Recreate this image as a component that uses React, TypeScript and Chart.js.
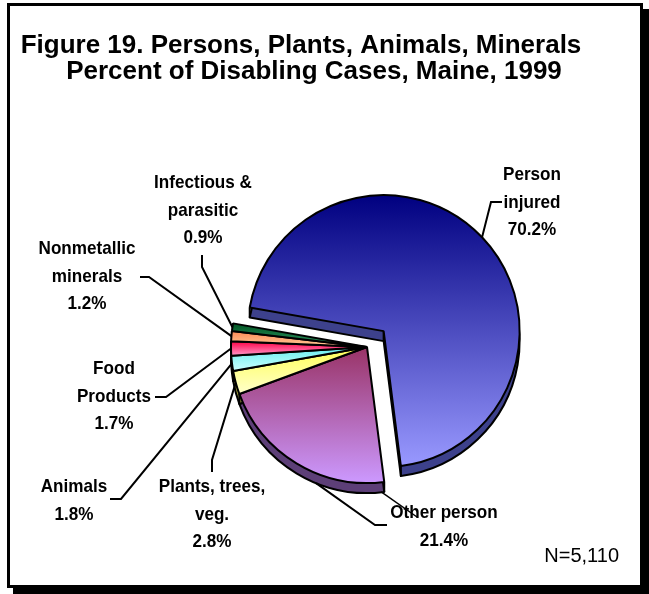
import React, { useEffect, useRef } from "react";
import { Chart, registerables } from "chart.js";

Chart.register(...registerables);

// ---------- data ----------
const titleLines = [
  "Figure 19. Persons, Plants, Animals, Minerals",
  "Percent of Disabling Cases, Maine, 1999",
];
const noteText = "N=5,110";
const categories = [
  "Person injured",
  "Other person",
  "Plants, trees, veg.",
  "Animals",
  "Food Products",
  "Nonmetallic minerals",
  "Infectious & parasitic",
];
const labelLines = [
  ["Person", "injured"],
  ["Other person"],
  ["Plants, trees,", "veg."],
  ["Animals"],
  ["Food", "Products"],
  ["Nonmetallic", "minerals"],
  ["Infectious &", "parasitic"],
];
const percents = [70.2, 21.4, 2.8, 1.8, 1.7, 1.2, 0.9];

// ---------- styles ----------
const topColors = ["#000080", "#993366", "#ffff55", "#66eeee", "#ff0044", "#ff8855", "#005522"];
const bottomColors = ["#9999ff", "#cc99ff", "#ffffcc", "#ccffff", "#ff99cc", "#ffcc99", "#339966"];
const sideColors = ["#3d418c", "#5d3f78", "#a3a340", "#3f9999", "#993355", "#995533", "#003318"];
const explode = [23, 0, 0, 0, 0, 0, 0];
const leaderFrac = [0.5, 0.38, 0.5, 0.5, 0.5, 0.5, 0.5];

const ROTATION = 280;
const RADIUS = 136;
const DEPTH = 10;
const FONT = "'Liberation Sans', Arial, Helvetica, sans-serif";
const LABEL_SIZE = 19;
const LABEL_SCALE_X = 0.9;

// label layout: [centerX, firstLineCenterY]
const labelAnchors = [
  [532, 175],
  [444, 513],
  [212, 487],
  [74, 487],
  [114, 369],
  [87, 249],
  [203, 183],
];
// leader start and elbow: [x0, y0, x1, y1]
const leaderElbows = [
  [502, 202, 491, 202],
  [387, 525, 375, 525],
  [212, 472, 212, 460],
  [110, 499, 121, 499],
  [155, 397, 166, 397],
  [140, 277, 149, 277],
  [202, 255, 202, 267],
];
const LINE_H = 27.5;

function sliceGradient(context: any) {
  const chart = context.chart;
  const i = context.dataIndex;
  const area = chart.chartArea;
  if (!area || i === undefined) return topColors[i ?? 0];
  const total = percents.reduce((a, b) => a + b, 0);
  let start = ((ROTATION - 90) * Math.PI) / 180;
  for (let j = 0; j < i; j++) start += (percents[j] / total) * Math.PI * 2;
  const end = start + (percents[i] / total) * Math.PI * 2;
  const mid = (start + end) / 2;
  const cy = (area.top + area.bottom) / 2 + Math.sin(mid) * explode[i];
  let minY = cy;
  let maxY = cy;
  for (let k = 0; k <= 40; k++) {
    const a = start + ((end - start) * k) / 40;
    const yy = cy + RADIUS * Math.sin(a);
    minY = Math.min(minY, yy);
    maxY = Math.max(maxY, yy);
  }
  const g = chart.ctx.createLinearGradient(0, minY, 0, maxY + 0.01);
  g.addColorStop(0, topColors[i]);
  g.addColorStop(1, bottomColors[i]);
  return g;
}

const explodePlugin = {
  id: "explodeSlices",
  afterDatasetUpdate(chart: any, args: any) {
    const meta = chart.getDatasetMeta(args.index);
    meta.data.forEach((arc: any, i: number) => {
      const d = explode[i];
      if (!d) return;
      const mid = (arc.startAngle + arc.endAngle) / 2;
      arc.x += Math.cos(mid) * d;
      arc.y += Math.sin(mid) * d;
    });
  },
};

const depthPlugin = {
  id: "pieDepth",
  beforeDatasetsDraw(chart: any) {
    const ctx = chart.ctx as CanvasRenderingContext2D;
    const meta = chart.getDatasetMeta(0);
    meta.data.forEach((arc: any, i: number) => {
      const { x, y, startAngle, endAngle, outerRadius } = arc;
      ctx.save();
      ctx.beginPath();
      ctx.moveTo(x, y + DEPTH);
      ctx.arc(x, y + DEPTH, outerRadius, startAngle, endAngle);
      ctx.closePath();
      ctx.fillStyle = sideColors[i];
      ctx.fill();
      ctx.lineWidth = 2;
      ctx.strokeStyle = "#000";
      ctx.lineJoin = "round";
      ctx.stroke();
      ctx.beginPath();
      for (const ang of [startAngle, endAngle]) {
        const px = x + Math.cos(ang) * outerRadius;
        const py = y + Math.sin(ang) * outerRadius;
        ctx.moveTo(px, py);
        ctx.lineTo(px, py + DEPTH);
      }
      ctx.moveTo(x, y);
      ctx.lineTo(x, y + DEPTH);
      ctx.stroke();
      ctx.restore();
    });
  },
};

function drawScaledText(ctx: CanvasRenderingContext2D, text: string, x: number, y: number, sx: number) {
  ctx.save();
  ctx.translate(x, y);
  ctx.scale(sx, 1);
  ctx.fillText(text, 0, 0);
  ctx.restore();
}

const labelPlugin = {
  id: "calloutLabels",
  afterDraw(chart: any) {
    const ctx = chart.ctx as CanvasRenderingContext2D;
    const meta = chart.getDatasetMeta(0);
    ctx.save();
    // leader lines
    ctx.strokeStyle = "#000";
    ctx.lineWidth = 2;
    meta.data.forEach((arc: any, i: number) => {
      const { x, y, startAngle, endAngle, outerRadius } = arc;
      const ang = startAngle + (endAngle - startAngle) * leaderFrac[i];
      const px = x + Math.cos(ang) * outerRadius;
      let py = y + Math.sin(ang) * outerRadius;
      if (Math.sin(ang) > 0.3) py += DEPTH;
      const [x0, y0, x1, y1] = leaderElbows[i];
      ctx.beginPath();
      ctx.moveTo(x0, y0);
      ctx.lineTo(x1, y1);
      ctx.lineTo(px, py);
      ctx.stroke();
    });
    // secondary leader for "Other person" from its start corner
    {
      const arc: any = meta.data[1];
      const cx = arc.x + Math.cos(arc.startAngle) * arc.outerRadius;
      const cy = arc.y + Math.sin(arc.startAngle) * arc.outerRadius + DEPTH;
      ctx.lineWidth = 1.5;
      ctx.beginPath();
      ctx.moveTo(cx - 3, cy);
      ctx.lineTo(417, 517);
      ctx.stroke();
    }
    // label texts
    ctx.fillStyle = "#000";
    ctx.textAlign = "center";
    ctx.textBaseline = "middle";
    ctx.font = `bold ${LABEL_SIZE}px ${FONT}`;
    labelLines.forEach((lines, i) => {
      const [lx, ly] = labelAnchors[i];
      const all = [...lines, `${percents[i].toFixed(1)}%`];
      all.forEach((t, k) => drawScaledText(ctx, t, lx, ly + k * LINE_H, LABEL_SCALE_X));
    });
    // title
    ctx.font = `bold 26px ${FONT}`;
    ctx.textBaseline = "alphabetic";
    ctx.fillText(titleLines[0], 301, 53);
    ctx.fillText(titleLines[1], 314, 79);
    // note
    ctx.font = `20px ${FONT}`;
    ctx.textAlign = "right";
    ctx.fillText(noteText, 619, 562);
    ctx.restore();
  },
};

export default function App() {
  const ref = useRef<HTMLCanvasElement | null>(null);
  useEffect(() => {
    if (!ref.current) return;
    const chart = new Chart(ref.current, {
      type: "pie",
      data: {
        labels: categories,
        datasets: [
          {
            data: percents,
            backgroundColor: sliceGradient as any,
            borderColor: "#000",
            borderWidth: 2,
          },
        ],
      },
      options: {
        responsive: false,
        animation: false,
        rotation: ROTATION,
        radius: RADIUS,
        layout: { padding: { left: 150, right: 65, top: 150, bottom: 50 } },
        plugins: {
          legend: { display: false },
          tooltip: { enabled: false },
          title: { display: false },
        },
      } as any,
      plugins: [explodePlugin, depthPlugin, labelPlugin],
    });
    return () => chart.destroy();
  }, []);

  return (
    <div style={{ position: "fixed", left: 0, top: 0, width: 649, height: 594, background: "#fff" }}>
      <div
        style={{
          position: "absolute",
          left: 7,
          top: 3,
          width: 630,
          height: 579,
          border: "3px solid #000",
          boxShadow: "6px 6px 0 #000",
          background: "#fff",
        }}
      />
      <canvas ref={ref} width={649} height={594} style={{ position: "absolute", left: 0, top: 0 }} />
    </div>
  );
}
